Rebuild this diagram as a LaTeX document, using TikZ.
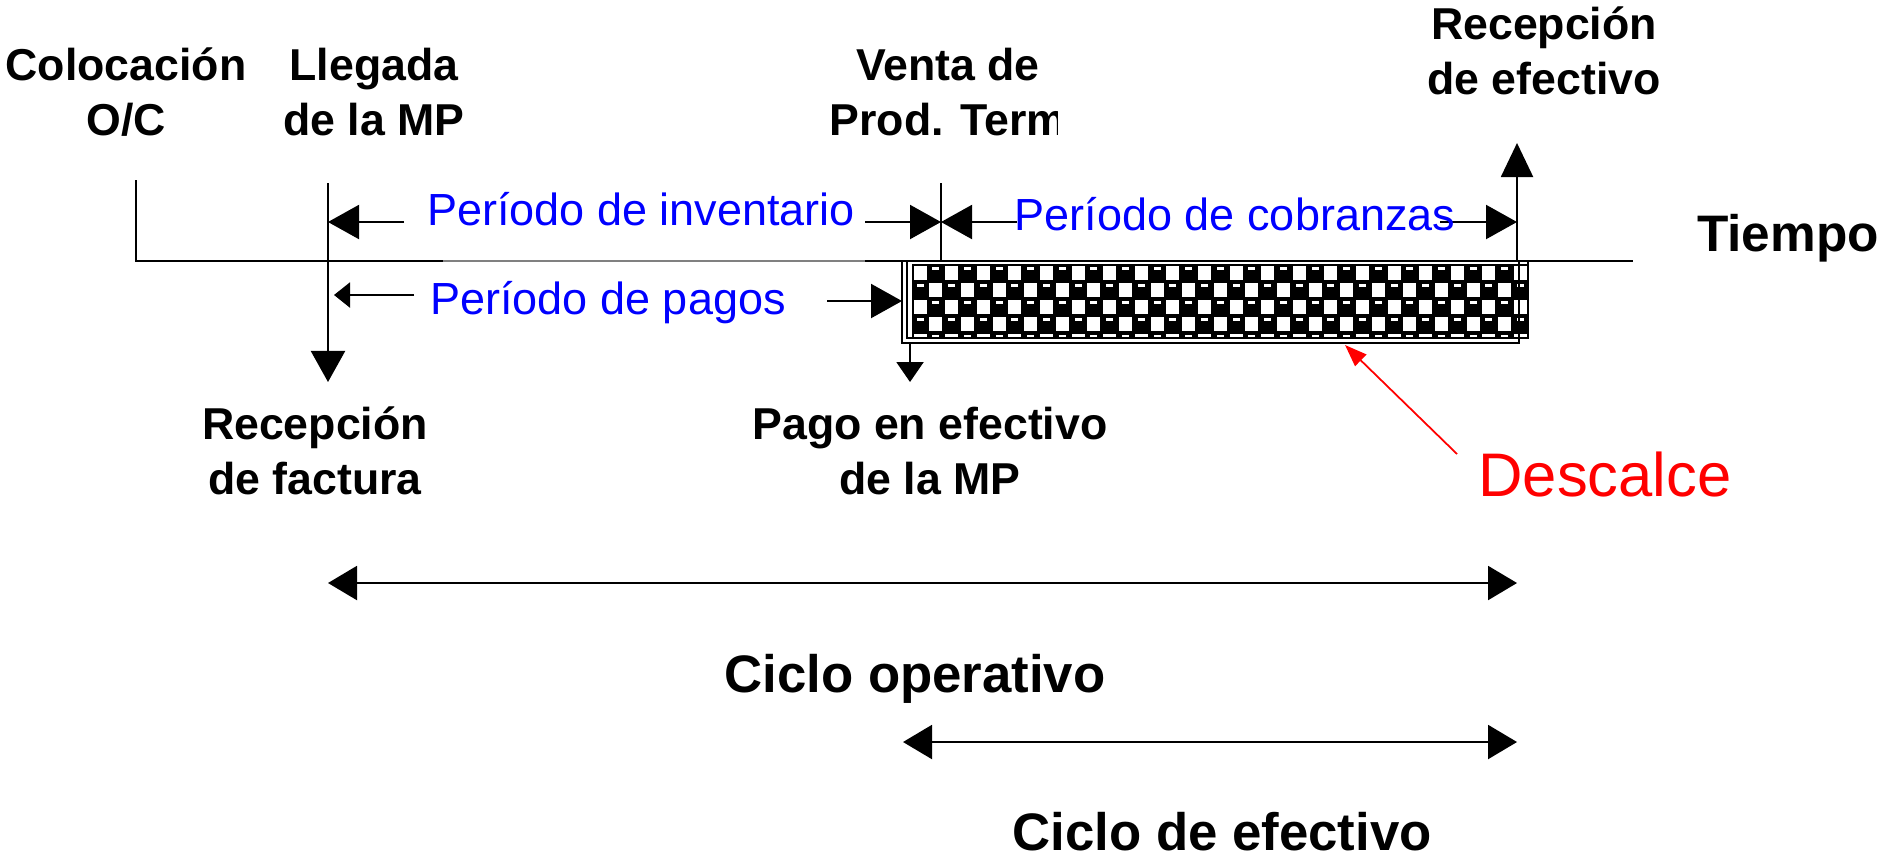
\documentclass[tikz,border=0pt]{standalone}
\usepackage{fontspec}
\setmainfont{Liberation Sans}
\usetikzlibrary{arrows.meta, positioning, calc}

\tikzset{
    evento/.style={font=\fontsize{12.7}{15.4}\selectfont\bfseries, align=center, inner sep=0pt, anchor=base},
    periodo/.style={font=\fontsize{12.8}{15}\selectfont, text=blue, inner sep=0pt, anchor=base},
    ciclo/.style={font=\fontsize{15}{18}\selectfont\bfseries, inner sep=0pt, anchor=base},
    puntagrande/.style={-{Triangle[length=3.1mm,width=3.4mm]}},
    puntachica/.style={-{Triangle[length=1.6mm,width=2.5mm]}},
    doble/.style={{Triangle[length=2.9mm,width=3.4mm]}-{Triangle[length=2.9mm,width=3.4mm]}}
}

\begin{document}
\begin{tikzpicture}[x=0.01cm, y=-0.01cm, line width=0.6pt]

        \useasboundingbox (0,0) rectangle (1883,860);

        % Puntos sobre el eje del tiempo
        \coordinate (oc) at (136,261); % Colocacion O/C
        \coordinate (mp) at (328,261); % Llegada de la MP
        \coordinate (pt) at (941,261); % Venta de Prod. Term
        \coordinate (ef) at (1517,261); % Recepcion de efectivo
        \coordinate (pg) at (910,343); % Pago de la MP
        \coordinate (fin) at (1633,261); % Fin del eje

        % Bloque del descalce
        \begin{scope}
            \clip (912,264) rectangle (1528,338);
            \fill[black] (912,264) rectangle (1528,338);
            \foreach \i in {0,2,...,38}{
                \foreach \j in {0,2,4}{
                    \fill[white] ({912+\i*15.8+1.5},{264+\j*17+1.5}) rectangle ++(13,14);
                    \fill[white] ({912+(\i+1)*15.8+4.5},{264+\j*17+3}) rectangle ++(7,3);
                }
                \foreach \j in {1,3}{
                    \fill[white] ({912+(\i+1)*15.8+1.5},{264+\j*17+1.5}) rectangle ++(13,14);
                    \fill[white] ({912+\i*15.8+4.5},{264+\j*17+3}) rectangle ++(7,3);
                }
            }
        \end{scope}
        \draw[line width=0.4pt] (907,261) rectangle (1528,338); % Marco interior
        \draw[line width=0.4pt] (902,261) rectangle (1519,343); % Marco exterior

        % Eje del tiempo
        \draw (oc) ++(0,-81) -- (oc) -- (443,261);
        \draw[gray, line width=0.3pt] (443,261) -- (865,261);
        \draw (865,261) -- (fin);

        % Lineas de los eventos
        \draw[puntagrande] (mp) ++(0,-78) -- ($(mp)+(0,121)$); % Llegada
        \draw (pt) ++(0,-78) -- (pt); % Venta
        \draw[-{Triangle[length=3.4mm,width=3.2mm]}] (ef) -- ++(0,-118); % Cobro
        \draw[-{Triangle[length=2mm,width=2.7mm]}] (pg) -- ++(0,39); % Pago

        % Periodos
        \coordinate (inv l) at (404,222);
        \coordinate (inv r) at (865,222);
        \coordinate (cob l) at (1017,222);
        \coordinate (cob r) at (1440,222);
        \coordinate (pag l) at (414,295);
        \coordinate (pag r) at (827,301);
        \draw[puntagrande] (inv l) -- (inv l -| mp);
        \draw[puntagrande] (inv r) -- (inv r -| pt);
        \draw[puntagrande] (cob l) -- (cob l -| pt);
        \draw[puntagrande] (cob r) -- (cob r -| ef);
        \draw[puntachica] (pag l) -- (334,295);
        \draw[puntagrande] (pag r) -- (902,301);

        \node[periodo] (inv) at (641,225) {Período de inventario};
        \node[periodo] (cob) at (1235,230) {Período de cobranzas};
        \node[periodo] (pag) at (608,314) {Período de pagos};

        % Etiquetas de los eventos
        \node[evento] (coloc) at (126,135) {Colocación\\O/C};
        \node[evento] (lleg) at (374,135) {Llegada\\de la MP};
        \begin{scope}
            \clip (800,0) rectangle (1057,160);
            \node[evento] (venta) at (948,135) {Venta de\\Prod. Term};
        \end{scope}
        \node[evento] (recef) at (1544,94) {Recepción\\de efectivo};
        \node[evento] (recfa) at (315,494) {Recepción\\de factura};
        \node[evento] (pago) at (930,494) {Pago en efectivo\\de la MP};
        \node[font=\fontsize{14.6}{17}\selectfont\bfseries, inner sep=0pt, anchor=base] (tiempo) at (1788,251) {Tiempo};

        % Descalce
        \node[font=\fontsize{17.5}{20}\selectfont, text=red, inner sep=0pt, anchor=base] (desc) at (1605,496) {Descalce};
        \draw[red, line width=0.5pt, -{Triangle[length=2.2mm,width=1.6mm]}] (1457,454) -- (1345,345);

        % Ciclos
        \coordinate (co l) at (328,583);
        \coordinate (ce l) at (903,742);
        \draw[doble] (co l) -- (co l -| ef);
        \draw[doble] (ce l) -- (ce l -| ef);
        \node[ciclo] (cop) at (915,692) {Ciclo operativo};
        \node[ciclo] (cef) at (1222,850) {Ciclo de efectivo};

\end{tikzpicture}
\end{document}
